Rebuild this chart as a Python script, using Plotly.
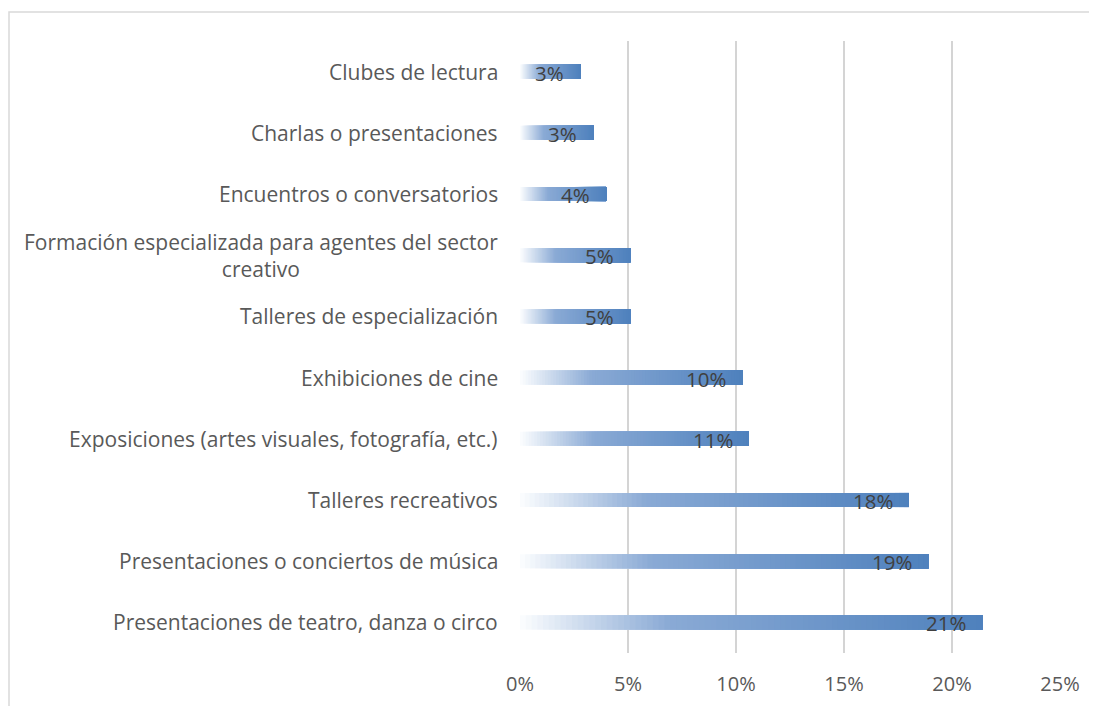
import plotly.graph_objects as go

categories = [
    "Clubes de lectura",
    "Charlas o presentaciones",
    "Encuentros o conversatorios",
    "Formación especializada para agentes del sector<br>creativo",
    "Talleres de especialización",
    "Exhibiciones de cine",
    "Exposiciones (artes visuales, fotografía, etc.)",
    "Talleres recreativos",
    "Presentaciones o conciertos de música",
    "Presentaciones de teatro, danza o circo",
]
values = [0.028, 0.034, 0.040, 0.051, 0.051, 0.103, 0.106, 0.180, 0.189, 0.214]
x_ticks = [0, 0.05, 0.10, 0.15, 0.20, 0.25]

# page has an 8px body margin, so margins are offset by that
W, H = 1097, 706
L, R, T, B = 512, 45, 33, 61
FONT = "Open Sans"
GRAY = "#595959"


def mix(c1, c2, t):
    return "rgb({},{},{})".format(*[round(a + (b - a) * t) for a, b in zip(c1, c2)])


def grad(t):
    # white -> light blue over first third, then to solid blue
    c0, c1, c2 = (250, 252, 254), (138, 170, 213), (79, 129, 189)
    if t < 0.32:
        return mix(c0, c1, t / 0.32)
    return mix(c1, c2, (t - 0.32) / 0.68)


fig = go.Figure()
N = 80
for i in range(N):
    fig.add_trace(go.Bar(
        y=categories,
        x=[v * (N - i) / N for v in values],
        base=[v * i / N for v in values],
        orientation="h",
        width=0.23,
        marker=dict(color=grad(i / (N - 1)), line=dict(width=0)),
        hoverinfo="skip",
        showlegend=False,
    ))

# data labels (inside end) and category labels
for c, v in zip(categories, values):
    fig.add_annotation(x=v, y=c, xref="x", yref="y", text=f"{v:.0%}",
                       showarrow=False, xanchor="right", xshift=-14, yshift=-1,
                       font=dict(family=FONT, size=20.5, color="#404040"))
    fig.add_annotation(x=0, y=c, xref="paper", yref="y", text=c,
                       showarrow=False, xanchor="right", xshift=-20, align="center",
                       font=dict(family=FONT, size=21, color=GRAY))

pw, ph = W - L - R, H - T - B
fig.add_shape(type="rect", xref="paper", yref="paper",
              x0=(1 - L) / pw, x1=(W + 10 - L) / pw,
              y0=(H - B - (H + 10)) / ph, y1=(H - B - 4) / ph,
              line=dict(color="#d9d9d9", width=1.5), layer="below")

fig.update_layout(
    width=W, height=H,
    margin=dict(l=L, r=R, t=T, b=B),
    barmode="overlay",
    paper_bgcolor="white",
    plot_bgcolor="white",
    font=dict(family=FONT, color=GRAY),
    xaxis=dict(range=[0, 0.25], tickvals=x_ticks, tickformat=".0%",
               showgrid=True, gridcolor="#d4d4d4", gridwidth=2,
               zeroline=False, showline=False, ticks="",
               ticklabelstandoff=17,
               tickfont=dict(family=FONT, size=20, color=GRAY)),
    yaxis=dict(autorange="reversed", showticklabels=False, showgrid=False,
               zeroline=False, showline=False),
)

fig.write_html("out.html")
